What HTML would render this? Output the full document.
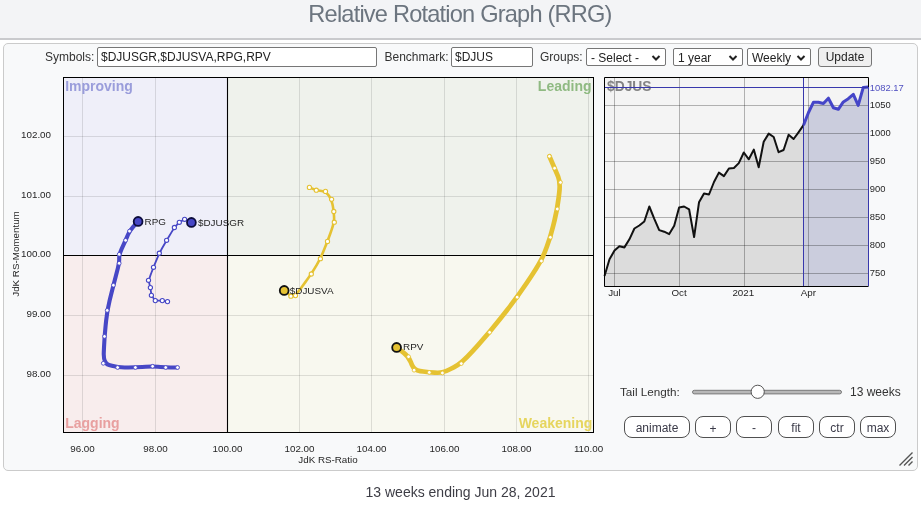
<!DOCTYPE html>
<html><head><meta charset="utf-8">
<style>
*{box-sizing:border-box}
html,body{margin:0;padding:0}
body{width:921px;height:505px;background:#fff;position:relative;overflow:hidden;font-family:"Liberation Sans",Arial,sans-serif;color:#333}
#hdr{position:absolute;left:0;top:0;width:921px;height:40px;background:#f3f4f6;border-bottom:2px solid #c9cacd}
#hdr h1{margin:0;position:absolute;left:-1px;right:0;top:1px;text-align:center;font-weight:normal;font-size:23.6px;letter-spacing:-0.8px;line-height:26px;color:#6c757f;font-family:"Liberation Sans",sans-serif}
#panel{position:absolute;left:3px;top:43px;width:915px;height:428px;border:1px solid #cbcbcb;border-radius:5px;background:#f8f9fa}
.t{position:absolute;font-size:12px;color:#333;white-space:nowrap;line-height:14px}
.inp{position:absolute;height:20px;border:1px solid #767676;border-radius:2px;background:#fff;font-size:12px;line-height:17px;padding-top:1px;padding-left:3px;color:#222;white-space:nowrap;overflow:hidden}
.sel{position:absolute;height:18px;border:1px solid #767676;border-radius:2px;background:#fff;font-size:12px;line-height:16px;padding-top:1px;padding-left:4px;color:#222;white-space:nowrap}
.sel svg{position:absolute;right:4px;top:5px}
.btn{position:absolute;border:1px solid #505050;border-radius:8px;background:#fff;font-size:12px;text-align:center;color:#3a3a48;line-height:20px;padding-top:1px;height:22px}
svg text{font-family:"Liberation Sans",Arial,sans-serif}
.lbl{font-size:9.9px;fill:#1e1e1e}
.ax{font-size:9.8px;fill:#262626}
.pl{font-size:9.4px;fill:#262626}
.q{font-size:14px;font-weight:bold}
.pt{font-size:13.8px;font-weight:bold;fill:#848484}
#foot{position:absolute;left:0;width:921px;top:484px;text-align:center;font-size:14px;color:#3d3d45}
</style></head><body>
<div id="hdr"><h1>Relative Rotation Graph (RRG)</h1></div>
<div id="panel"></div>
<div class="t" style="left:45px;top:50px">Symbols:</div>
<div class="inp" style="left:97px;top:47px;width:280px">$DJUSGR,$DJUSVA,RPG,RPV</div>
<div class="t" style="left:384.5px;top:50px">Benchmark:</div>
<div class="inp" style="left:451px;top:47px;width:82px">$DJUS</div>
<div class="t" style="left:540px;top:50px">Groups:</div>
<div class="sel" style="left:586px;top:48px;width:80px">- Select -<svg width="10" height="8" viewBox="0 0 10 8"><path d="M1.5,2 L5,5.5 L8.5,2" stroke="#222" stroke-width="2" fill="none"/></svg></div>
<div class="sel" style="left:673px;top:48px;width:70px">1 year<svg width="10" height="8" viewBox="0 0 10 8"><path d="M1.5,2 L5,5.5 L8.5,2" stroke="#222" stroke-width="2" fill="none"/></svg></div>
<div class="sel" style="left:747px;top:48px;width:64px">Weekly<svg width="10" height="8" viewBox="0 0 10 8"><path d="M1.5,2 L5,5.5 L8.5,2" stroke="#222" stroke-width="2" fill="none"/></svg></div>
<div class="btn" style="left:818px;top:47px;width:54px;height:20px;border-radius:3px;background:#efefef;border-color:#767676;line-height:18px;padding-top:0;font-size:12px;color:#222">Update</div>
<svg width="921" height="505" style="position:absolute;left:0;top:0">
<rect x="63" y="77" width="164" height="178" fill="#efeff9"/>
<rect x="227.5" y="77" width="366.5" height="178.5" fill="#eff2ec"/>
<rect x="63" y="255.5" width="164.5" height="177.5" fill="#f8eded"/>
<rect x="227.5" y="255.5" width="366.5" height="177.5" fill="#f8f8ef"/>
<path d="M82.5,77 V433 M155.5,77 V433 M299.5,77 V433 M371.5,77 V433 M444.5,77 V433 M516.5,77 V433 M588.5,77 V433 M63,136.5 H594 M63,196.5 H594 M63,315.5 H594 M63,375.5 H594" stroke="#000" stroke-opacity="0.11" stroke-width="1" fill="none"/>
<text x="65.2" y="90.9" class="q" fill="#9a9ddb">Improving</text>
<text x="591.5" y="90.8" class="q" fill="#8fba82" text-anchor="end">Leading</text>
<text x="65.2" y="428.2" class="q" fill="#e8a0a0">Lagging</text>
<text x="592.3" y="428.3" class="q" fill="#e6d55e" text-anchor="end">Weakening</text>
<path d="M227.5,77 V433 M63,255.5 H594" stroke="#000" stroke-width="1.1"/>
<path d="M167.50,301.60 L164.38,301.00 Q162.30,300.60 159.50,300.60 L158.10,300.60 Q155.30,300.60 153.74,298.48 L152.96,297.42 Q151.40,295.30 151.00,292.22 L150.80,290.68 Q150.40,287.60 149.64,284.68 L149.26,283.22 Q148.50,280.30 150.50,275.10 L151.50,272.50 Q153.50,267.30 155.82,261.66 L156.98,258.84 Q159.30,253.20 162.22,248.04 L163.68,245.46 Q166.60,240.30 169.72,235.18 L171.28,232.62 Q174.40,227.50 176.36,225.42 L177.34,224.38 Q179.30,222.30 181.42,221.10 L182.48,220.50 Q184.60,219.30 187.32,220.54 L191.40,222.40" fill="none" stroke="#4747c6" stroke-width="1.8" stroke-linecap="round" stroke-linejoin="round"/>
<circle cx="167.5" cy="301.6" r="2.1" fill="#fff" stroke="#4747c6" stroke-width="1.1"/>
<circle cx="162.3" cy="300.6" r="2.1" fill="#fff" stroke="#4747c6" stroke-width="1.1"/>
<circle cx="155.3" cy="300.6" r="2.1" fill="#fff" stroke="#4747c6" stroke-width="1.1"/>
<circle cx="151.4" cy="295.3" r="2.1" fill="#fff" stroke="#4747c6" stroke-width="1.1"/>
<circle cx="150.4" cy="287.6" r="2.1" fill="#fff" stroke="#4747c6" stroke-width="1.1"/>
<circle cx="148.5" cy="280.3" r="2.1" fill="#fff" stroke="#4747c6" stroke-width="1.1"/>
<circle cx="153.5" cy="267.3" r="2.1" fill="#fff" stroke="#4747c6" stroke-width="1.1"/>
<circle cx="159.3" cy="253.2" r="2.1" fill="#fff" stroke="#4747c6" stroke-width="1.1"/>
<circle cx="166.6" cy="240.3" r="2.1" fill="#fff" stroke="#4747c6" stroke-width="1.1"/>
<circle cx="174.4" cy="227.5" r="2.1" fill="#fff" stroke="#4747c6" stroke-width="1.1"/>
<circle cx="179.3" cy="222.3" r="2.1" fill="#fff" stroke="#4747c6" stroke-width="1.1"/>
<circle cx="184.6" cy="219.3" r="2.1" fill="#fff" stroke="#4747c6" stroke-width="1.1"/>
<circle cx="191.4" cy="222.4" r="4.4" fill="#4747c6" stroke="#0c0c3c" stroke-width="1.8"/>
<text x="198.0" y="225.8" class="lbl">$DJUSGR</text>
<path d="M177.50,367.50 L170.42,367.50 Q165.70,367.50 160.46,367.02 L157.84,366.78 Q152.60,366.30 145.72,366.78 L142.28,367.02 Q135.40,367.50 128.28,367.50 L124.72,367.50 Q117.60,367.50 111.88,365.82 L109.02,364.98 Q103.30,363.30 103.78,352.54 L104.02,347.16 Q104.50,336.40 105.58,326.00 L106.12,320.80 Q107.20,310.40 109.68,300.32 L110.92,295.28 Q113.40,285.20 115.72,276.44 L116.88,272.06 Q119.20,263.30 119.20,259.70 L119.20,257.90 Q119.20,254.30 121.76,248.70 L123.04,245.90 Q125.60,240.30 127.16,236.62 L127.94,234.78 Q129.50,231.10 132.94,227.22 L138.10,221.40" fill="none" stroke="#4747c6" stroke-width="4.1" stroke-linecap="round" stroke-linejoin="round"/>
<circle cx="177.5" cy="367.5" r="1.9" fill="#fff" stroke="#4747c6" stroke-width="0.9"/>
<circle cx="165.7" cy="367.5" r="1.9" fill="#fff" stroke="#4747c6" stroke-width="0.9"/>
<circle cx="152.6" cy="366.3" r="1.9" fill="#fff" stroke="#4747c6" stroke-width="0.9"/>
<circle cx="135.4" cy="367.5" r="1.9" fill="#fff" stroke="#4747c6" stroke-width="0.9"/>
<circle cx="117.6" cy="367.5" r="1.9" fill="#fff" stroke="#4747c6" stroke-width="0.9"/>
<circle cx="103.3" cy="363.3" r="1.9" fill="#fff" stroke="#4747c6" stroke-width="0.9"/>
<circle cx="104.5" cy="336.4" r="1.9" fill="#fff" stroke="#4747c6" stroke-width="0.9"/>
<circle cx="107.2" cy="310.4" r="1.9" fill="#fff" stroke="#4747c6" stroke-width="0.9"/>
<circle cx="113.4" cy="285.2" r="1.9" fill="#fff" stroke="#4747c6" stroke-width="0.9"/>
<circle cx="119.2" cy="263.3" r="1.9" fill="#fff" stroke="#4747c6" stroke-width="0.9"/>
<circle cx="119.2" cy="254.3" r="1.9" fill="#fff" stroke="#4747c6" stroke-width="0.9"/>
<circle cx="125.6" cy="240.3" r="1.9" fill="#fff" stroke="#4747c6" stroke-width="0.9"/>
<circle cx="129.5" cy="231.1" r="1.9" fill="#fff" stroke="#4747c6" stroke-width="0.9"/>
<circle cx="138.1" cy="221.4" r="4.4" fill="#4747c6" stroke="#0c0c3c" stroke-width="1.8"/>
<text x="144.6" y="224.6" class="lbl">RPG</text>
<path d="M309.40,187.40 L313.54,189.08 Q316.30,190.20 319.98,190.68 L321.82,190.92 Q325.50,191.40 327.94,194.56 L329.16,196.14 Q331.60,199.30 332.48,204.18 L332.92,206.62 Q333.80,211.50 334.00,215.78 L334.10,217.92 Q334.30,222.20 331.58,229.88 L330.22,233.72 Q327.50,241.40 324.66,248.32 L323.24,251.78 Q320.40,258.70 316.76,264.82 L314.94,267.88 Q311.30,274.00 304.98,282.64 L301.82,286.96 Q295.50,295.60 293.66,295.84 L292.74,295.96 Q290.90,296.20 288.22,293.88 L284.20,290.40" fill="none" stroke="#e5c232" stroke-width="2.6" stroke-linecap="round" stroke-linejoin="round"/>
<circle cx="309.4" cy="187.4" r="2.1" fill="#fff" stroke="#e5c232" stroke-width="1.1"/>
<circle cx="316.3" cy="190.2" r="2.1" fill="#fff" stroke="#e5c232" stroke-width="1.1"/>
<circle cx="325.5" cy="191.4" r="2.1" fill="#fff" stroke="#e5c232" stroke-width="1.1"/>
<circle cx="331.6" cy="199.3" r="2.1" fill="#fff" stroke="#e5c232" stroke-width="1.1"/>
<circle cx="333.8" cy="211.5" r="2.1" fill="#fff" stroke="#e5c232" stroke-width="1.1"/>
<circle cx="334.3" cy="222.2" r="2.1" fill="#fff" stroke="#e5c232" stroke-width="1.1"/>
<circle cx="327.5" cy="241.4" r="2.1" fill="#fff" stroke="#e5c232" stroke-width="1.1"/>
<circle cx="320.4" cy="258.7" r="2.1" fill="#fff" stroke="#e5c232" stroke-width="1.1"/>
<circle cx="311.3" cy="274.0" r="2.1" fill="#fff" stroke="#e5c232" stroke-width="1.1"/>
<circle cx="295.5" cy="295.6" r="2.1" fill="#fff" stroke="#e5c232" stroke-width="1.1"/>
<circle cx="290.9" cy="296.2" r="2.1" fill="#fff" stroke="#e5c232" stroke-width="1.1"/>
<circle cx="284.2" cy="290.4" r="4.4" fill="#e5c232" stroke="#111" stroke-width="1.8"/>
<text x="289.8" y="293.6" class="lbl">$DJUSVA</text>
<path d="M549.40,156.30 L552.52,163.44 Q554.60,168.20 556.96,173.88 L558.14,176.72 Q560.50,182.40 559.22,193.04 L558.58,198.36 Q557.30,209.00 554.54,220.32 L553.16,225.98 Q550.40,237.30 546.80,246.78 L545.00,251.52 Q541.40,261.00 531.72,275.48 L526.88,282.72 Q517.20,297.20 506.16,311.24 L500.64,318.26 Q489.60,332.30 478.28,344.82 L472.62,351.08 Q461.30,363.60 453.74,367.36 L449.96,369.24 Q442.40,373.00 437.16,372.76 L434.54,372.64 Q429.30,372.40 423.22,371.52 L420.18,371.08 Q414.10,370.20 411.90,364.80 L410.80,362.10 Q408.60,356.70 403.80,352.98 L396.60,347.40" fill="none" stroke="#e5c232" stroke-width="4.7" stroke-linecap="round" stroke-linejoin="round"/>
<circle cx="549.4" cy="156.3" r="1.9" fill="#fff" stroke="#e5c232" stroke-width="0.9"/>
<circle cx="554.6" cy="168.2" r="1.9" fill="#fff" stroke="#e5c232" stroke-width="0.9"/>
<circle cx="560.5" cy="182.4" r="1.9" fill="#fff" stroke="#e5c232" stroke-width="0.9"/>
<circle cx="557.3" cy="209.0" r="1.9" fill="#fff" stroke="#e5c232" stroke-width="0.9"/>
<circle cx="550.4" cy="237.3" r="1.9" fill="#fff" stroke="#e5c232" stroke-width="0.9"/>
<circle cx="541.4" cy="261.0" r="1.9" fill="#fff" stroke="#e5c232" stroke-width="0.9"/>
<circle cx="517.2" cy="297.2" r="1.9" fill="#fff" stroke="#e5c232" stroke-width="0.9"/>
<circle cx="489.6" cy="332.3" r="1.9" fill="#fff" stroke="#e5c232" stroke-width="0.9"/>
<circle cx="461.3" cy="363.6" r="1.9" fill="#fff" stroke="#e5c232" stroke-width="0.9"/>
<circle cx="442.4" cy="373.0" r="1.9" fill="#fff" stroke="#e5c232" stroke-width="0.9"/>
<circle cx="429.3" cy="372.4" r="1.9" fill="#fff" stroke="#e5c232" stroke-width="0.9"/>
<circle cx="414.1" cy="370.2" r="1.9" fill="#fff" stroke="#e5c232" stroke-width="0.9"/>
<circle cx="408.6" cy="356.7" r="1.9" fill="#fff" stroke="#e5c232" stroke-width="0.9"/>
<circle cx="396.6" cy="347.4" r="4.4" fill="#e5c232" stroke="#111" stroke-width="1.8"/>
<text x="403.0" y="349.9" class="lbl">RPV</text>
<rect x="63.5" y="77.5" width="530" height="355" fill="none" stroke="#000" stroke-width="1"/>
<text x="51" y="138.2" class="ax" text-anchor="end">102.00</text>
<text x="51" y="198.2" class="ax" text-anchor="end">101.00</text>
<text x="51" y="257.2" class="ax" text-anchor="end">100.00</text>
<text x="51" y="317.2" class="ax" text-anchor="end">99.00</text>
<text x="51" y="377.2" class="ax" text-anchor="end">98.00</text>
<text x="82.5" y="452" class="ax" text-anchor="middle">96.00</text>
<text x="155.5" y="452" class="ax" text-anchor="middle">98.00</text>
<text x="227.5" y="452" class="ax" text-anchor="middle">100.00</text>
<text x="299.5" y="452" class="ax" text-anchor="middle">102.00</text>
<text x="371.5" y="452" class="ax" text-anchor="middle">104.00</text>
<text x="444.5" y="452" class="ax" text-anchor="middle">106.00</text>
<text x="516.5" y="452" class="ax" text-anchor="middle">108.00</text>
<text x="588.5" y="452" class="ax" text-anchor="middle">110.00</text>
<text x="328" y="462.7" class="ax" text-anchor="middle">JdK RS-Ratio</text>
<text transform="translate(19,254) rotate(-90)" class="ax" text-anchor="middle">JdK RS-Momentum</text>
<rect x="604" y="77" width="265" height="210" fill="#f4f4f4"/>
<path d="M604.5,286.5 L604.5,276.0 L609.5,259.3 L614.5,250.6 L619.4,246.3 L624.4,247.4 L629.4,239.3 L634.4,228.5 L639.3,225.5 L644.3,221.5 L649.3,206.5 L654.3,218.8 L659.2,230.1 L664.2,231.7 L669.2,234.1 L674.2,225.7 L679.1,207.5 L684.1,206.5 L689.1,209.3 L694.1,237.1 L699.0,202.3 L704.0,193.4 L709.0,194.5 L714.0,182.0 L718.9,172.6 L723.9,176.1 L728.9,168.5 L733.9,168.0 L738.8,163.1 L743.8,152.5 L748.8,159.3 L753.8,149.6 L758.7,167.3 L763.7,141.7 L768.7,133.6 L773.7,137.0 L778.6,152.2 L783.6,150.0 L788.6,134.7 L793.6,139.0 L798.5,132.3 L803.5,125.2 L803.5,286.5 Z" fill="#dcdcdc"/>
<path d="M803.5,286.5 L803.5,125.2 L808.5,112.5 L813.5,102.2 L818.4,102.2 L823.4,103.5 L828.4,98.2 L833.4,107.7 L838.3,109.3 L843.3,101.9 L848.3,98.7 L853.3,94.3 L858.2,105.4 L863.2,87.6 L868.2,87.1 L868.5,286.5 Z" fill="#cbcddd"/>
<path d="M604,105.5 H868 M604,133.5 H868 M604,161.5 H868 M604,189.5 H868 M604,217.5 H868 M604,245.5 H868 M604,273.5 H868 M614.5,77 V286 M679.5,77 V286 M744.5,77 V286 M808.5,77 V286" stroke="#000" stroke-width="1" fill="none" opacity="0.28"/>
<text x="607" y="90.6" class="pt">$DJUS</text>
<path d="M604.5,276.0 L609.5,259.3 L614.5,250.6 L619.4,246.3 L624.4,247.4 L629.4,239.3 L634.4,228.5 L639.3,225.5 L644.3,221.5 L649.3,206.5 L654.3,218.8 L659.2,230.1 L664.2,231.7 L669.2,234.1 L674.2,225.7 L679.1,207.5 L684.1,206.5 L689.1,209.3 L694.1,237.1 L699.0,202.3 L704.0,193.4 L709.0,194.5 L714.0,182.0 L718.9,172.6 L723.9,176.1 L728.9,168.5 L733.9,168.0 L738.8,163.1 L743.8,152.5 L748.8,159.3 L753.8,149.6 L758.7,167.3 L763.7,141.7 L768.7,133.6 L773.7,137.0 L778.6,152.2 L783.6,150.0 L788.6,134.7 L793.6,139.0 L798.5,132.3 L803.5,125.2" fill="none" stroke="#111" stroke-width="2" stroke-linejoin="round"/>
<path d="M803.5,125.2 L808.5,112.5 L813.5,102.2 L818.4,102.2 L823.4,103.5 L828.4,98.2 L833.4,107.7 L838.3,109.3 L843.3,101.9 L848.3,98.7 L853.3,94.3 L858.2,105.4 L863.2,87.6 L868.2,87.1" fill="none" stroke="#4545c8" stroke-width="3" stroke-linejoin="round"/>
<path d="M803.5,77 V286 M604,87.5 H868.5 M868.5,87 V286" stroke="#3838ac" stroke-width="1" fill="none"/>
<path d="M868.5,87 V77.5 H604.5 V286.5 H868.5" stroke="#000" stroke-width="1" fill="none"/>
<text x="869.8" y="90.8" class="pl" style="fill:#5050c0">1082.17</text>
<text x="869.8" y="107.7" class="pl">1050</text>
<text x="869.8" y="135.8" class="pl">1000</text>
<text x="869.8" y="163.9" class="pl">950</text>
<text x="869.8" y="192.0" class="pl">900</text>
<text x="869.8" y="220.1" class="pl">850</text>
<text x="869.8" y="248.1" class="pl">800</text>
<text x="869.8" y="276.2" class="pl">750</text>
<text x="614.4" y="295.5" class="ax" text-anchor="middle">Jul</text>
<text x="679.0" y="295.5" class="ax" text-anchor="middle">Oct</text>
<text x="743.3" y="295.5" class="ax" text-anchor="middle">2021</text>
<text x="808.3" y="295.5" class="ax" text-anchor="middle">Apr</text>
</svg>
<div class="t" style="left:620px;top:385px;font-size:11.7px">Tail Length:</div>
<svg width="160" height="20" style="position:absolute;left:688px;top:382px"><rect x="4.5" y="8.3" width="149" height="3.6" rx="1.8" fill="#b8b8b8" stroke="#7a7a7a" stroke-width="1"/><circle cx="69.7" cy="9.8" r="6.6" fill="#fff" stroke="#555" stroke-width="1"/></svg>
<div class="t" style="left:850px;top:385px">13 weeks</div>
<div class="btn" style="left:624px;top:416px;width:66px">animate</div>
<div class="btn" style="left:695px;top:416px;width:36px;padding-top:2px">+</div>
<div class="btn" style="left:736px;top:416px;width:36px;padding-top:1px">-</div>
<div class="btn" style="left:778px;top:416px;width:36px">fit</div>
<div class="btn" style="left:819px;top:416px;width:36px">ctr</div>
<div class="btn" style="left:860px;top:416px;width:36px">max</div>
<svg width="16" height="16" style="position:absolute;left:898px;top:451px"><path d="M1.5,14.5 L14.5,1.5 M6,14.5 L14.5,6 M10.5,14.5 L14.5,10.5" stroke="#555" stroke-width="1.4"/></svg>
<div id="foot">13 weeks ending Jun 28, 2021</div>
</body></html>
